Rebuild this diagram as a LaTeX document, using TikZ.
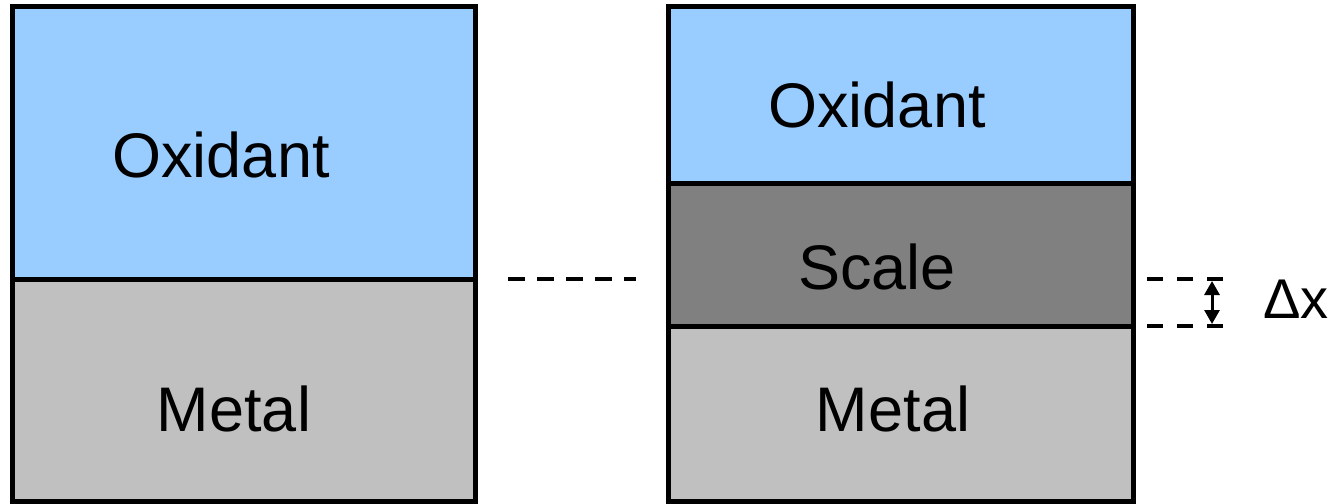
\documentclass[tikz,border=0pt]{standalone}
\usepackage{fontspec}
\setmainfont{Liberation Sans}
\usetikzlibrary{arrows.meta}
\definecolor{oxblue}{HTML}{99CCFF}
\definecolor{metalgray}{HTML}{C0C0C0}
\definecolor{scalegray}{HTML}{808080}
\begin{document}
\begin{tikzpicture}[x=1pt,y=-1pt,
  layer/.style={draw=black,line width=5pt},
  lbl/.style={font=\fontsize{63}{70}\selectfont,anchor=base,inner sep=0pt},
  dashline/.style={line width=4pt,dash pattern=on 17pt off 12pt},
  dashline2/.style={line width=4pt,dash pattern=on 16pt off 14pt}]
\useasboundingbox (0,0) rectangle (1337,503);
% left column
\filldraw[layer,fill=oxblue] (12,7) rectangle (475,279);
\filldraw[layer,fill=metalgray] (12,279) rectangle (475,501);
% right column
\filldraw[layer,fill=oxblue] (668,7) rectangle (1133,183);
\filldraw[layer,fill=scalegray] (668,183) rectangle (1133,326);
\filldraw[layer,fill=metalgray] (668,326) rectangle (1133,501);
% labels
\node[lbl] (ox1) at (221,177) {Oxidant};
\node[lbl] (me1) at (234,431) {Metal};
\node[lbl] (ox2) at (877,127) {Oxidant};
\node[lbl] (sc2) at (877,289) {Scale};
\node[lbl] (me2) at (893,431) {Metal};
% dashed connector
\coordinate (m1) at (508,279);
\coordinate (m2) at (636,279);
\draw[dashline] (m1) -- (m2);
% thickness marks
\coordinate (t1) at (1147,279);
\coordinate (t2) at (1223,279);
\coordinate (b1) at (1147,326);
\coordinate (b2) at (1223,326);
\draw[dashline2] (t1) -- (t2);
\draw[dashline2] (b1) -- (b2);
\coordinate (a1) at (1212,281);
\coordinate (a2) at (1212,324);
\draw[line width=3pt,{Triangle[length=14pt,width=15pt]}-{Triangle[length=14pt,width=15pt]}] (a1) -- (a2);
\node[lbl,font=\fontsize{56}{62}\selectfont] (dx) at (1296,318) {Δx};
\end{tikzpicture}
\end{document}
